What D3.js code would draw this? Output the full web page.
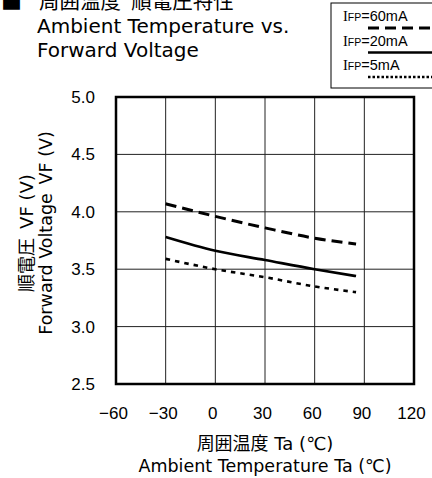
<!DOCTYPE html>
<html>
<head>
<meta charset="utf-8">
<script src="https://cdn.jsdelivr.net/npm/d3@7"></script>
<style>
  body { margin: 0; background: #fff; }
  text { font-family: "DejaVu Sans", "Noto Sans CJK JP", sans-serif; fill: #000; }
</style>
</head>
<body>
<div id="chart"></div>
<script>
(function(){
  // values
  const temps = [-30, 0, 30, 60, 85];
  const vf60 = [4.07, 3.96, 3.86, 3.77, 3.72];
  const vf20 = [3.78, 3.66, 3.58, 3.50, 3.44];
  const vf5 = [3.59, 3.50, 3.43, 3.35, 3.30];
  const xTicks = [-60, -30, 0, 30, 60, 90, 120];
  const yTicks = [2.5, 3.0, 3.5, 4.0, 4.5, 5.0];
  const legendLabels = ["=60mA", "=20mA", "=5mA"];

  const width = 432, height = 478;
  const margin = { top: 97, right: 18, bottom: 94, left: 116 };

  const svg = d3.select("#chart").append("svg")
    .attr("width", width)
    .attr("height", height);

  const x = d3.scaleLinear().domain([-60, 120]).range([margin.left, width - margin.right]);
  const y = d3.scaleLinear().domain([2.5, 5.0]).range([height - margin.bottom, margin.top]);

  // grid
  svg.append("g")
    .selectAll("line.vg")
    .data(xTicks.slice(1, -1))
    .enter().append("line")
    .attr("x1", d => x(d)).attr("x2", d => x(d))
    .attr("y1", y(2.5)).attr("y2", y(5.0))
    .attr("stroke", "#222").attr("stroke-width", 1);

  svg.append("g")
    .selectAll("line.hg")
    .data(yTicks.slice(1, -1))
    .enter().append("line")
    .attr("x1", x(-60)).attr("x2", x(120))
    .attr("y1", d => y(d)).attr("y2", d => y(d))
    .attr("stroke", "#222").attr("stroke-width", 1);

  // axes (labels only)
  const xAxis = svg.append("g")
    .attr("transform", `translate(0,${y(2.5)})`)
    .call(d3.axisBottom(x).tickValues(xTicks).tickSize(0).tickPadding(23));
  xAxis.select(".domain").remove();
  xAxis.selectAll("text").attr("font-size", 17).attr("dx", -3)
    .style("font-family", "'Liberation Sans', sans-serif");

  const yAxis = svg.append("g")
    .attr("transform", `translate(${x(-60)},0)`)
    .call(d3.axisLeft(y).tickValues(yTicks).tickFormat(d3.format(".1f")).tickSize(0).tickPadding(21));
  yAxis.select(".domain").remove();
  yAxis.selectAll("text").attr("font-size", 17)
    .style("font-family", "'Liberation Sans', sans-serif");

  // frame
  svg.append("rect")
    .attr("x", x(-60)).attr("y", y(5.0))
    .attr("width", x(120) - x(-60)).attr("height", y(2.5) - y(5.0))
    .attr("fill", "none").attr("stroke", "#000").attr("stroke-width", 2.5);

  // curves
  const line = d3.line()
    .x((d, i) => x(temps[i]))
    .y(d => y(d))
    .curve(d3.curveMonotoneX);

  const series = [
    { values: vf60, dash: "11,6", w: 3 },
    { values: vf20, dash: null, w: 2.6 },
    { values: vf5, dash: "4.5,5", w: 2.6 }
  ];

  svg.append("g").selectAll("path")
    .data(series)
    .enter().append("path")
    .attr("d", d => line(d.values))
    .attr("fill", "none")
    .attr("stroke", "#000")
    .attr("stroke-width", d => d.w)
    .attr("stroke-dasharray", d => d.dash);

  // title
  svg.append("text").attr("x", 1).attr("y", 9).attr("font-size", 21)
    .style("font-family", "'Noto Sans CJK JP', sans-serif").text("■");
  svg.append("text").attr("x", 39).attr("y", 9).attr("font-size", 20.5)
    .text("周囲温度\u2002順電圧特性");
  svg.append("text").attr("x", 37).attr("y", 33).attr("font-size", 20)
    .text("Ambient Temperature vs.");
  svg.append("text").attr("x", 37).attr("y", 57).attr("font-size", 20)
    .text("Forward Voltage");

  // y axis titles
  const yMid = 233;
  svg.append("text")
    .attr("transform", `translate(33,${yMid}) rotate(-90)`)
    .attr("text-anchor", "middle").attr("font-size", 18)
    .text("順電圧\u2002VF (V)");
  svg.append("text")
    .attr("transform", `translate(52,${yMid}) rotate(-90)`)
    .attr("text-anchor", "middle").attr("font-size", 17.5)
    .text("Forward Voltage\u2002VF (V)");

  // x axis titles
  const xMid = (x(-60) + x(120)) / 2;
  svg.append("text").attr("x", xMid).attr("y", 450)
    .attr("text-anchor", "middle").attr("font-size", 18)
    .text("周囲温度 Ta (℃)");
  svg.append("text").attr("x", xMid).attr("y", 472)
    .attr("text-anchor", "middle").attr("font-size", 17.5)
    .text("Ambient Temperature Ta (℃)");

  // legend
  const legend = svg.append("g");
  legend.append("rect")
    .attr("x", 331).attr("y", 3).attr("width", 120).attr("height", 85)
    .attr("fill", "#fff").attr("stroke", "#000").attr("stroke-width", 1);

  const rows = legend.selectAll("g.row")
    .data(series)
    .enter().append("g")
    .attr("transform", (d, i) => `translate(0,${i * 24.5})`);

  const lt = rows.append("text").attr("x", 343).attr("y", 21).attr("font-size", 14.5)
    .style("font-family", "'Liberation Sans', sans-serif");
  lt.append("tspan").style("font-family", "'Liberation Serif', serif").text("I");
  lt.append("tspan").attr("font-size", 10.5).text("FP");
  lt.append("tspan").text((d, i) => legendLabels[i]);

  rows.append("line")
    .attr("x1", 368).attr("x2", 440)
    .attr("y1", 28).attr("y2", 28)
    .attr("stroke", "#000")
    .attr("stroke-width", d => d.w)
    .attr("stroke-dasharray", d => d.dash === "4.5,5" ? "2.5,2" : d.dash);
})();
</script>
</body>
</html>
